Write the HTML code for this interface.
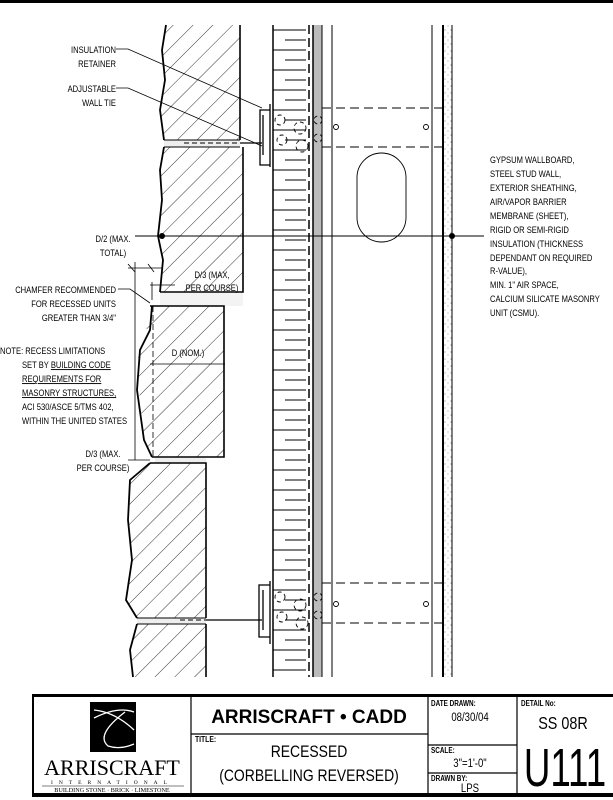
<!DOCTYPE html>
<html><head><meta charset="utf-8"><style>
html,body{margin:0;padding:0;background:#fff;}
svg{display:block;}
text{font-family:"Liberation Sans",sans-serif;fill:#000;}
</style></head><body>
<svg width="613" height="800" viewBox="0 0 613 800" xmlns="http://www.w3.org/2000/svg">
<defs>
<pattern id="h" width="14" height="14" patternUnits="userSpaceOnUse" patternTransform="rotate(45)">
<line x1="0" y1="0" x2="0" y2="14" stroke="#000" stroke-width="0.8"/>
</pattern>
<pattern id="sp" width="6" height="7" patternUnits="userSpaceOnUse">
<circle cx="1" cy="2" r="0.5" fill="#555"/><circle cx="4" cy="5" r="0.5" fill="#777"/>
</pattern>
</defs>
<rect x="0" y="0" width="613" height="3" fill="#000"/>

<path d="M166,25 L162,50 L165,80 L160,110 L164,140 L240,140 L240,25 Z" fill="url(#h)"/>
<path d="M166,25 L162,50 L165,80 L160,110 L164,140" fill="none" stroke="#000" stroke-width="1.8"/>
<line x1="240" y1="25" x2="240" y2="140" stroke="#000" stroke-width="1.6"/>
<rect x="164" y="140" width="76" height="7" fill="#eee"/>
<line x1="164" y1="140" x2="240" y2="140" stroke="#000" stroke-width="1"/>
<line x1="164" y1="147" x2="240" y2="147" stroke="#000" stroke-width="1"/>
<path d="M164,147 L160,170 L162,200 L158,236 L163,260 L160,292 L243,292 L243,147 Z" fill="url(#h)"/>
<path d="M164,147 L160,170 L162,200 L158,236 L163,260 L160,292" fill="none" stroke="#000" stroke-width="1.8"/>
<polyline points="160,292 243,292 243,147" fill="none" stroke="#000" stroke-width="1.6"/>
<rect x="160" y="293" width="83" height="13" fill="#f3f3f3"/>
<path d="M150,306 L145,340 L137,360 L140,400 L144,440 L152,457 L224,457 L224,306 Z" fill="url(#h)"/>
<path d="M152,306 L150,330 L140,350 L137,390 L144,440 L152,457" fill="none" stroke="#000" stroke-width="1.8"/>
<polyline points="150,306 224,306 224,457 152,457" fill="none" stroke="#000" stroke-width="1.6"/>
<line x1="153" y1="306" x2="153" y2="457" stroke="#000" stroke-width="0.8" stroke-dasharray="6,3"/>
<rect x="155" y="458" width="51" height="5" fill="#eee"/>
<path d="M150,463 L130,480 L128,520 L132,560 L126,600 L137,618 L206,618 L206,463 Z" fill="url(#h)"/>
<path d="M150,463 L130,480 L128,520 L132,560 L126,600 L137,618" fill="none" stroke="#000" stroke-width="1.8"/>
<polyline points="150,463 206,463 206,618" fill="none" stroke="#000" stroke-width="1.6"/>
<rect x="137" y="618" width="69" height="6" fill="#eee"/>
<line x1="137" y1="618" x2="206" y2="618" stroke="#000"/><line x1="137" y1="624" x2="206" y2="624" stroke="#000"/>
<path d="M137,624 L130,650 L133,677 L206,677 L206,624 Z" fill="url(#h)"/>
<path d="M137,624 L130,650 L133,677" fill="none" stroke="#000" stroke-width="1.8"/>
<line x1="206" y1="624" x2="206" y2="677" stroke="#000" stroke-width="1.6"/>

<line x1="273" y1="25" x2="273" y2="677" stroke="#000" stroke-width="1.5"/>
<g stroke="#000" stroke-width="1">
<path d="M273,30h33M285,40h21M273,50h33M285,60h21M273,70h33M285,80h21M273,90h33M285,100h21M273,110h33M285,120h21M273,130h33M285,140h21M273,150h33M285,160h21M273,170h33M285,180h21M273,190h33M285,200h21M273,210h33M285,220h21M273,230h33M285,240h21M273,250h33M285,260h21M273,270h33M285,280h21M273,290h33M285,300h21M273,310h33M285,320h21M273,330h33M285,340h21M273,350h33M285,360h21M273,370h33M285,380h21M273,390h33M285,400h21M273,410h33M285,420h21M273,430h33M285,440h21M273,450h33M285,460h21M273,470h33M285,480h21M273,490h33M285,500h21M273,510h33M285,520h21M273,530h33M285,540h21M273,550h33M285,560h21M273,570h33M285,580h21M273,590h33M285,600h21M273,610h33M285,620h21M273,630h33M285,640h21M273,650h33M285,660h21M273,670h33"/>
</g>
<line x1="309" y1="25" x2="309" y2="677" stroke="#000" stroke-width="1.5" stroke-dasharray="9,4"/>
<rect x="313" y="25" width="9" height="652" fill="#bbb"/>
<line x1="313" y1="25" x2="313" y2="677" stroke="#000" stroke-width="1.5"/>
<line x1="322" y1="25" x2="322" y2="677" stroke="#000" stroke-width="1"/>
<line x1="332" y1="25" x2="332" y2="677" stroke="#000" stroke-width="1"/>
<line x1="432" y1="25" x2="432" y2="677" stroke="#000" stroke-width="1"/>
<rect x="443" y="25" width="9" height="652" fill="url(#sp)"/>
<line x1="443" y1="25" x2="443" y2="677" stroke="#000" stroke-width="2"/>
<line x1="452" y1="25" x2="452" y2="677" stroke="#000" stroke-width="1"/>

<g stroke="#000" stroke-width="1" stroke-dasharray="9,5" fill="none">
<line x1="322" y1="108" x2="443" y2="108"/><line x1="322" y1="147" x2="443" y2="147"/>
<line x1="322" y1="583" x2="443" y2="583"/><line x1="322" y1="623" x2="443" y2="623"/>
</g>
<g fill="none" stroke="#000" stroke-width="0.9">
<circle cx="336" cy="127" r="2.5"/><circle cx="426" cy="127" r="2.5"/>
<circle cx="336" cy="604" r="2.5"/><circle cx="426" cy="604" r="2.5"/>
<rect x="357" y="153" width="49" height="89" rx="24.5"/>
<g stroke-dasharray="4,3">
<circle cx="280" cy="120" r="5"/><circle cx="300" cy="128" r="6"/><circle cx="282" cy="140" r="5"/><circle cx="302" cy="146" r="6"/><circle cx="318" cy="120" r="4"/><circle cx="318" cy="138" r="4"/>
<circle cx="280" cy="597" r="5"/><circle cx="300" cy="605" r="6"/><circle cx="282" cy="617" r="5"/><circle cx="302" cy="623" r="6"/><circle cx="318" cy="597" r="4"/><circle cx="318" cy="615" r="4"/>
</g>
</g>
<g fill="none" stroke="#000" stroke-width="1.3">
<path d="M270,104 V167 M260,110 h10 v55 h-10 z M263,115 v40"/>
<path d="M270,581 V644 M259,585 h11 v52 h-11 z M263,590 v40"/>
<line x1="240" y1="143" x2="262" y2="143"/>
<line x1="206" y1="620" x2="262" y2="620"/>
</g>
<line x1="184" y1="143" x2="240" y2="143" stroke="#000" stroke-dasharray="5,3"/>
<line x1="180" y1="620" x2="206" y2="620" stroke="#000" stroke-dasharray="5,3"/>

<line x1="135" y1="236" x2="484" y2="236" stroke="#000" stroke-width="1"/>
<circle cx="162" cy="236" r="3" fill="#000"/><circle cx="452" cy="236" r="3" fill="#000"/>

<g stroke="#000" stroke-width="0.8" fill="none">
<polyline points="116,49 128,49 262,108"/>
<polyline points="116,88 128,88 262,146"/>
<polyline points="118,289 130,289 150,303"/>
<line x1="135" y1="262" x2="135" y2="460"/>
<line x1="128" y1="268" x2="162" y2="268"/>
<line x1="150" y1="285" x2="175" y2="285"/><line x1="152" y1="282" x2="152" y2="300"/>
<line x1="128" y1="460" x2="150" y2="460"/>
<line x1="150" y1="364" x2="225" y2="364"/>
<line x1="128" y1="264" x2="135" y2="272"/><line x1="148" y1="264" x2="154" y2="272"/>
</g>

<g font-size="9.5" text-anchor="end" transform="translate(116,0) scale(0.8,1)">
<text x="0" y="53">INSULATION</text><text x="0" y="67">RETAINER</text>
<text x="0" y="92">ADJUSTABLE</text><text x="0" y="106">WALL TIE</text>
<text x="0" y="293">CHAMFER RECOMMENDED</text><text x="0" y="307">FOR RECESSED UNITS</text><text x="0" y="321">GREATER THAN 3/4"</text>
</g>
<g font-size="9.5" text-anchor="middle">
<text transform="translate(113,0) scale(0.8,1)" x="0" y="242">D/2 (MAX.</text>
<text transform="translate(113,0) scale(0.8,1)" x="0" y="256">TOTAL)</text>
<text transform="translate(212,0) scale(0.8,1)" x="0" y="278">D/3 (MAX,</text>
<text transform="translate(212,0) scale(0.8,1)" x="0" y="291">PER COURSE)</text>
<text transform="translate(188,0) scale(0.8,1)" x="0" y="356">D (NOM.)</text>
<text transform="translate(103,0) scale(0.8,1)" x="0" y="457">D/3 (MAX.</text>
<text transform="translate(103,0) scale(0.8,1)" x="0" y="471">PER COURSE)</text>
</g>
<g font-size="9.5" transform="scale(0.8,1)">
<text x="0" y="354">NOTE: RECESS LIMITATIONS</text>
<text x="27.5" y="368">SET BY <tspan text-decoration="underline">BUILDING CODE</tspan></text>
<text x="27.5" y="382" text-decoration="underline">REQUIREMENTS FOR</text>
<text x="27.5" y="396" text-decoration="underline">MASONRY STRUCTURES,</text>
<text x="27.5" y="410">ACI 530/ASCE 5/TMS 402,</text>
<text x="27.5" y="424">WITHIN THE UNITED STATES</text>
</g>
<g font-size="9.5" transform="translate(490,0) scale(0.8,1)">
<text x="0" y="163">GYPSUM WALLBOARD,</text>
<text x="0" y="177">STEEL STUD WALL,</text>
<text x="0" y="191">EXTERIOR SHEATHING,</text>
<text x="0" y="205">AIR/VAPOR BARRIER</text>
<text x="0" y="219">MEMBRANE (SHEET),</text>
<text x="0" y="233">RIGID OR SEMI-RIGID</text>
<text x="0" y="247">INSULATION (THICKNESS</text>
<text x="0" y="261">DEPENDANT ON REQUIRED</text>
<text x="0" y="274">R-VALUE),</text>
<text x="0" y="288">MIN. 1" AIR SPACE,</text>
<text x="0" y="302">CALCIUM SILICATE MASONRY</text>
<text x="0" y="316">UNIT (CSMU).</text>
</g>

<rect x="34" y="694" width="579" height="3" fill="#000"/>
<rect x="34" y="793" width="579" height="4" fill="#000"/>
<rect x="32" y="694" width="2" height="103" fill="#000"/>
<g stroke="#000" stroke-width="1.2">
<line x1="191" y1="696" x2="191" y2="794"/>
<line x1="428" y1="696" x2="428" y2="794"/>
<line x1="517" y1="696" x2="517" y2="794"/>
<line x1="191" y1="734" x2="428" y2="734"/>
<line x1="428" y1="745" x2="517" y2="745"/>
<line x1="428" y1="773" x2="517" y2="773"/>
</g>
<rect x="90" y="702" width="46" height="50" fill="#000"/>
<g stroke="#fff" fill="none" stroke-width="1.3">
<path d="M94,710 Q115,712 134,730"/><path d="M94,718 Q118,706 134,712"/><path d="M125,712 Q95,735 108,746 Q120,750 134,744"/>
</g>
<text x="112" y="775" font-size="22" text-anchor="middle" style="font-family:'Liberation Serif',serif">ARRISCRAFT</text>
<text x="112" y="784" font-size="5.5" text-anchor="middle" letter-spacing="6" style="font-family:'Liberation Serif',serif">INTERNATIONAL</text>
<line x1="42" y1="786" x2="184" y2="786" stroke="#000" stroke-width="0.6"/>
<text x="112" y="792" font-size="6.2" text-anchor="middle" style="font-family:'Liberation Serif',serif">BUILDING STONE · BRICK · LIMESTONE</text>
<text x="309" y="723" font-size="19" font-weight="bold" text-anchor="middle">ARRISCRAFT • CADD</text>
<text transform="translate(195,0) scale(0.8,1)" x="0" y="742" font-size="8.5" font-weight="bold">TITLE:</text>
<text transform="translate(309,0) scale(0.82,1)" x="0" y="757" font-size="17" text-anchor="middle">RECESSED</text>
<text transform="translate(309,0) scale(0.82,1)" x="0" y="781" font-size="17" text-anchor="middle">(CORBELLING REVERSED)</text>
<text transform="translate(431,0) scale(0.75,1)" x="0" y="706" font-size="8.5" font-weight="bold">DATE DRAWN:</text>
<text transform="translate(470,0) scale(0.8,1)" x="0" y="721" font-size="12" text-anchor="middle">08/30/04</text>
<text transform="translate(431,0) scale(0.75,1)" x="0" y="753" font-size="8.5" font-weight="bold">SCALE:</text>
<text transform="translate(470,0) scale(0.8,1)" x="0" y="767" font-size="12" text-anchor="middle">3"=1'-0"</text>
<text transform="translate(431,0) scale(0.75,1)" x="0" y="781" font-size="8.5" font-weight="bold">DRAWN BY:</text>
<text transform="translate(470,0) scale(0.8,1)" x="0" y="792" font-size="12" text-anchor="middle">LPS</text>
<text transform="translate(521,0) scale(0.75,1)" x="0" y="706" font-size="8.5" font-weight="bold">DETAIL No:</text>
<text transform="translate(563,0) scale(0.8,1)" x="0" y="729" font-size="18" text-anchor="middle">SS 08R</text>
<text transform="translate(565,0) scale(0.68,1)" x="0" y="786" font-size="54" text-anchor="middle">U111</text>
</svg>
</body></html>
